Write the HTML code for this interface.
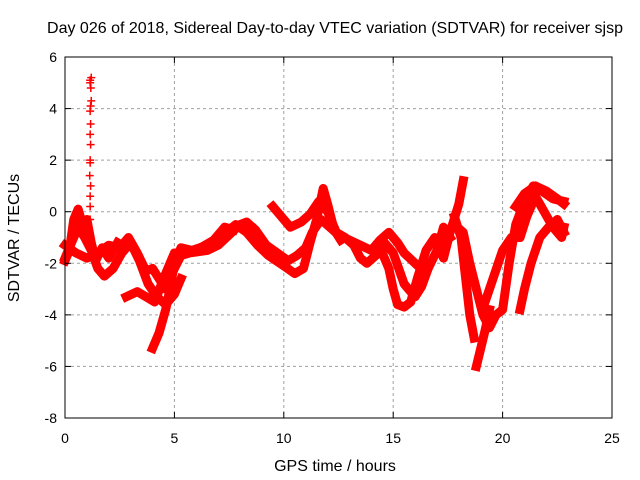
<!DOCTYPE html>
<html><head><meta charset="utf-8"><style>
body{margin:0;background:#fff}
svg{display:block;font-family:"Liberation Sans",sans-serif}
</style></head><body>
<svg id="chart" width="640" height="480">
<rect width="640" height="480" fill="#fff"/>
<text x="335" y="33" text-anchor="middle" font-size="16">Day 026 of 2018, Sidereal Day-to-day VTEC variation (SDTVAR) for receiver sjsp</text>
<text x="335" y="471" text-anchor="middle" font-size="16">GPS time / hours</text>
<text transform="translate(19,238) rotate(-90)" text-anchor="middle" font-size="16">SDTVAR / TECUs</text>
<g id="grid"></g><g id="marks"></g><g id="axes"></g>
</svg>
<script>
const xTicks=[0,5,10,15,20,25];
const yTicks=[-8,-6,-4,-2,0,2,4,6];
const traceA=[[0,-1.8],[0.3,-1.2],[0.6,-0.6],[0.9,-1.0],[1.2,-1.5],[1.5,-2.2],[1.8,-2.5],[2.2,-2.2],[2.6,-1.6],[3.0,-1.2],[3.4,-1.9],[3.8,-2.8],[4.2,-3.3],[4.6,-3.6],[5.0,-3.2],[5.3,-2.6]];
const traceB=[[0,-1.3],[0.5,-1.6],[1.0,-1.8],[1.5,-1.6],[2.0,-1.3],[2.5,-1.4],[2.9,-1.0],[3.3,-1.6],[3.7,-2.3],[4.0,-2.2],[4.3,-2.6],[4.6,-3.0],[5.0,-2.2],[5.3,-1.7],[5.7,-1.6],[6.5,-1.5],[7.0,-1.3],[7.5,-0.9],[8.0,-0.5],[8.3,-0.4],[8.7,-0.7],[9.2,-1.3],[9.7,-1.6],[10.2,-1.9],[10.6,-1.7],[11.0,-1.4],[11.3,-0.8],[11.7,-0.3],[12.1,-0.6],[12.5,-0.9],[13.0,-1.1],[13.5,-1.3],[14.0,-1.5],[14.4,-1.1],[14.8,-0.8],[15.2,-1.2],[15.5,-1.6],[16.0,-2.0]];
const traceC=[[0,-1.9],[0.2,-1.5],[0.4,-0.3],[0.6,0.1],[0.8,-0.5],[1.0,-0.3],[1.2,-1.2],[1.4,-1.9],[1.7,-1.4],[2.0,-1.8],[2.4,-1.2]];
const traceD=[[2.8,-3.3],[3.3,-3.1],[3.7,-3.3],[4.1,-3.5],[4.5,-2.6],[5.0,-1.6],[5.6,-1.6],[6.2,-1.4],[6.8,-1.1],[7.3,-0.6],[7.7,-0.7]];
const traceE=[[4.0,-5.3],[4.3,-4.7],[4.6,-3.8],[4.8,-3.0],[5.0,-2.0],[5.3,-1.4],[5.8,-1.5],[6.5,-1.3],[7.2,-0.9],[7.8,-0.5],[8.3,-0.8],[8.8,-1.3],[9.3,-1.7],[10.0,-2.1],[10.5,-2.4],[10.9,-2.2],[11.2,-1.2],[11.5,-0.3],[11.8,0.9],[12.0,0.3],[12.3,-0.7],[12.6,-1.1]];
const traceF=[[9.5,0.2],[9.9,-0.2],[10.3,-0.6],[10.8,-0.4],[11.2,-0.1],[11.6,0.4],[12.0,0.0],[12.4,-0.8],[12.8,-1.0],[13.2,-1.3],[13.5,-1.8],[13.8,-2.0],[14.2,-1.7],[14.6,-1.2],[15.0,-1.6],[15.5,-2.8],[16.0,-3.3],[16.3,-2.9],[16.6,-2.2],[17.0,-1.5],[17.3,-0.6],[17.6,-1.0]];
const traceG=[[14.5,-1.6],[14.8,-2.2],[15.0,-3.0],[15.2,-3.6],[15.5,-3.7],[15.8,-3.5],[16.1,-2.6],[16.5,-1.5],[16.9,-1.0],[17.3,-1.8],[17.6,-0.8],[18.0,0.3],[18.2,1.2]];
const traceH=[[17.8,-0.5],[18.2,-0.8],[18.5,-2.0],[18.8,-3.0],[19.1,-4.0],[19.4,-4.5],[19.7,-4.0],[20.0,-3.8],[20.3,-2.0],[20.6,-0.5],[21.0,0.4],[21.4,1.0],[21.8,0.8],[22.3,0.5],[22.8,0.4]];
const traceI=[[17.8,-0.2],[18.1,-1.0],[18.3,-2.5],[18.5,-4.0],[18.7,-4.9]];
const traceJ=[[19.4,-3.8],[19.2,-4.6],[19.0,-5.3],[18.8,-6.0]];
const traceK=[[19.2,-3.5],[19.6,-2.5],[20.0,-1.5],[20.4,-1.0],[20.8,-1.0],[21.1,-0.2],[21.5,0.6],[21.9,0.0],[22.3,-0.6],[22.7,-1.0],[22.8,-0.6]];
const traceL=[[20.8,-3.8],[21.0,-3.0],[21.3,-2.0],[21.7,-1.0],[22.1,-0.6],[22.5,-0.3],[22.8,-0.8]];
const traceM=[[20.6,0.2],[21.0,0.7],[21.5,1.0],[22.0,0.8],[22.5,0.5],[22.8,0.3]];
const spikeT=[1.15,1.15,1.15,1.17,1.13,1.15,1.15,1.17,1.15,1.17,1.15,1.17,1.2,1.18,1.15,1.15,1.2];
const spikeV=[-0.3,0.2,0.6,1.0,1.4,1.9,2.0,2.6,3.0,3.4,3.9,4.1,4.3,4.8,5.0,5.1,5.2];
const traces=[traceA,traceB,traceC,traceD,traceE,traceF,traceG,traceH,traceI,traceJ,traceK,traceL,traceM];
const L=65,R=612,T=57,B=418;
const xs=v=>L+(v-0)/25*(R-L);
const ys=v=>B-(v+8)/14*(B-T);
const NS="http://www.w3.org/2000/svg";
const mk=(t,a,p)=>{const e=document.createElementNS(NS,t);for(const k in a)e.setAttribute(k,a[k]);p.appendChild(e);return e;};
const grid=document.getElementById('grid'),marks=document.getElementById('marks'),axes=document.getElementById('axes');
xTicks.forEach(t=>{
  if(t>0&&t<25){const g=mk('line',{x1:xs(t),x2:xs(t),y1:T,y2:B,stroke:'#a0a0a0','stroke-dasharray':'3,3'},grid);
  
  }
  const tk=mk('text',{x:xs(t),y:B+25,'text-anchor':'middle','font-size':14},axes);tk.textContent=t;
  
  
  mk('line',{x1:xs(t),x2:xs(t),y1:B,y2:B-6,stroke:'#000'},axes);
  mk('line',{x1:xs(t),x2:xs(t),y1:T,y2:T+6,stroke:'#000'},axes);
});
yTicks.forEach(v=>{
  if(v>-8&&v<6){const g=mk('line',{x1:L,x2:R,y1:ys(v),y2:ys(v),stroke:'#a0a0a0','stroke-dasharray':'3,3'},grid);
  
  }
  const tk=mk('text',{x:L-8,y:ys(v)+5,'text-anchor':'end','font-size':14},axes);tk.textContent=v;
  
  
  mk('line',{x1:L,x2:L+6,y1:ys(v),y2:ys(v),stroke:'#000'},axes);
  mk('line',{x1:R,x2:R-6,y1:ys(v),y2:ys(v),stroke:'#000'},axes);
});
const fr=mk('rect',{x:L,y:T,width:R-L,height:B-T,fill:'none',stroke:'#000'},axes);


traces.forEach(tr=>{
  const p=mk('polyline',{points:tr.map(d=>xs(d[0])+','+ys(d[1])).join(' '),fill:'none',stroke:'#ff0000','stroke-width':9,'stroke-linejoin':'round','stroke-linecap':'square'},marks);
  
  
});
spikeT.forEach((t,i)=>{
  const x=xs(t),y=ys(spikeV[i]);
  const p=mk('path',{d:`M${x-4},${y}H${x+4}M${x},${y-4}V${y+4}`,stroke:'#ff0000','stroke-width':1.5},marks);
  
  
});
</script>
</body></html>
